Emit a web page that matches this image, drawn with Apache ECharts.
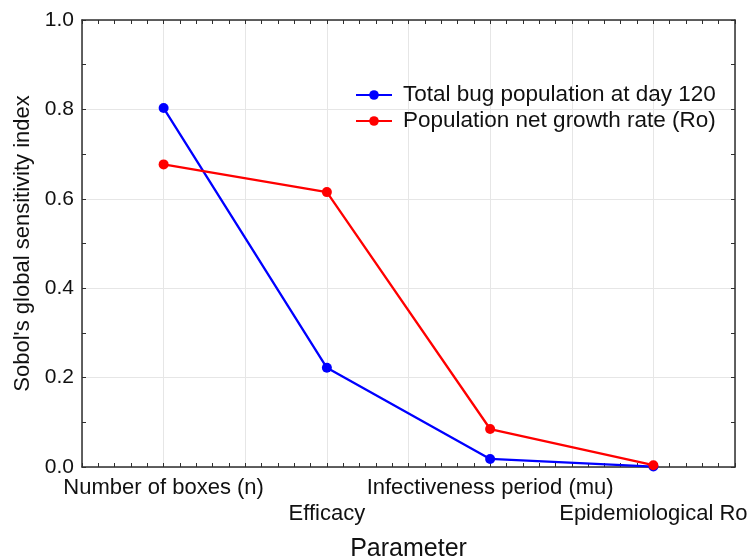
<!DOCTYPE html>
<html><head><meta charset="utf-8">
<script src="https://cdn.jsdelivr.net/npm/echarts@6/dist/echarts.min.js"></script>
<style>html,body{margin:0;padding:0;background:#fff}#c{width:752px;height:559px}</style>
</head><body><div id="c"></div>
<script>
var categories = ['Number of boxes (n)', 'Efficacy', 'Infectiveness period (mu)', 'Epidemiological Ro'];
var totalBug = [0.803, 0.222, 0.018, 0.001];
var netGrowth = [0.677, 0.615, 0.085, 0.004];
var seriesNames = ['Total bug population at day 120', 'Population net growth rate (Ro)'];

var FONT = 'Liberation Sans, Arial, sans-serif';
var axisCol = '#2e2e2e';
var gridCol = '#e6e6e6';
var tickStyle = {show: true, inside: true, length: 4, lineStyle: {color: axisCol, width: 1}};
function line(show) { return {show: show, onZero: false, lineStyle: {color: axisCol, width: 1.5}}; }
var chart = echarts.init(document.getElementById('c'), null, {renderer: 'canvas'});
chart.setOption({
  animation: false,
  backgroundColor: '#fff',
  grid: {left: 82, right: 17, top: 20, bottom: 92, containLabel: false, outerBoundsMode: 'none'},
  legend: {
    left: 350, top: 78, orient: 'vertical', itemWidth: 36, itemHeight: 12, itemGap: 2,
    textStyle: {fontFamily: FONT, fontSize: 22.5, color: '#111', lineHeight: 24, padding: [0, 0, 0, 6]},
    data: seriesNames
  },
  xAxis: [
    {type: 'category', data: categories, boundaryGap: true, position: 'bottom',
     axisLine: line(true), axisTick: {show: false}, splitLine: {show: false},
     axisLabel: {interval: 0, hideOverlap: false, fontFamily: FONT, fontSize: 22, color: '#111', margin: 8, lineHeight: 26,
       formatter: function (v, i) { return i % 2 ? '\n' + v : v; }},
     name: 'Parameter', nameLocation: 'middle', nameGap: 70,
     nameTextStyle: {fontFamily: FONT, fontSize: 25, color: '#111'}},
    {type: 'value', min: 0, max: 8, interval: 1, position: 'bottom',
     axisLine: line(false), axisLabel: {show: false}, axisTick: {show: false},
     splitLine: {show: true, lineStyle: {color: gridCol, width: 1}}},
    {type: 'value', min: 0, max: 8, interval: 0.2, position: 'bottom',
     axisLine: line(false), axisLabel: {show: false}, axisTick: tickStyle,
     splitLine: {show: false}},
    {type: 'value', min: 0, max: 8, interval: 0.2, position: 'top',
     axisLine: line(true), axisLabel: {show: false},
     axisTick: tickStyle, splitLine: {show: false}}
  ],
  yAxis: [
    {type: 'value', min: 0, max: 1, interval: 0.1, position: 'left',
     axisLine: line(true), axisTick: tickStyle, splitLine: {show: false},
     axisLabel: {fontFamily: FONT, fontSize: 21, color: '#111', margin: 8,
       formatter: function (v) { var k = Math.round(v * 10); return k % 2 ? '' : (k / 10).toFixed(1); }},
     name: "Sobol's global sensitivity index", nameLocation: 'middle', nameGap: 48,
     nameTextStyle: {fontFamily: FONT, fontSize: 22, color: '#111'}},
    {type: 'value', min: 0, max: 1, interval: 0.2, position: 'left',
     axisLine: line(false), axisTick: {show: false}, axisLabel: {show: false},
     splitLine: {show: true, lineStyle: {color: gridCol, width: 1}}},
    {type: 'value', min: 0, max: 1, interval: 0.1, position: 'right',
     axisLine: line(true), axisTick: tickStyle, splitLine: {show: false}, axisLabel: {show: false}}
  ],
  series: [
    {name: seriesNames[0], type: 'line', xAxisIndex: 0, yAxisIndex: 0, data: totalBug,
     symbol: 'circle', symbolSize: 10, color: '#0000ff', lineStyle: {width: 2.3, color: '#0000ff'},
     itemStyle: {color: '#0000ff'}, z: 3},
    {name: seriesNames[1], type: 'line', xAxisIndex: 0, yAxisIndex: 0, data: netGrowth,
     symbol: 'circle', symbolSize: 10, color: '#ff0000', lineStyle: {width: 2.3, color: '#ff0000'},
     itemStyle: {color: '#ff0000'}, z: 4}
  ]
});
</script></body></html>
